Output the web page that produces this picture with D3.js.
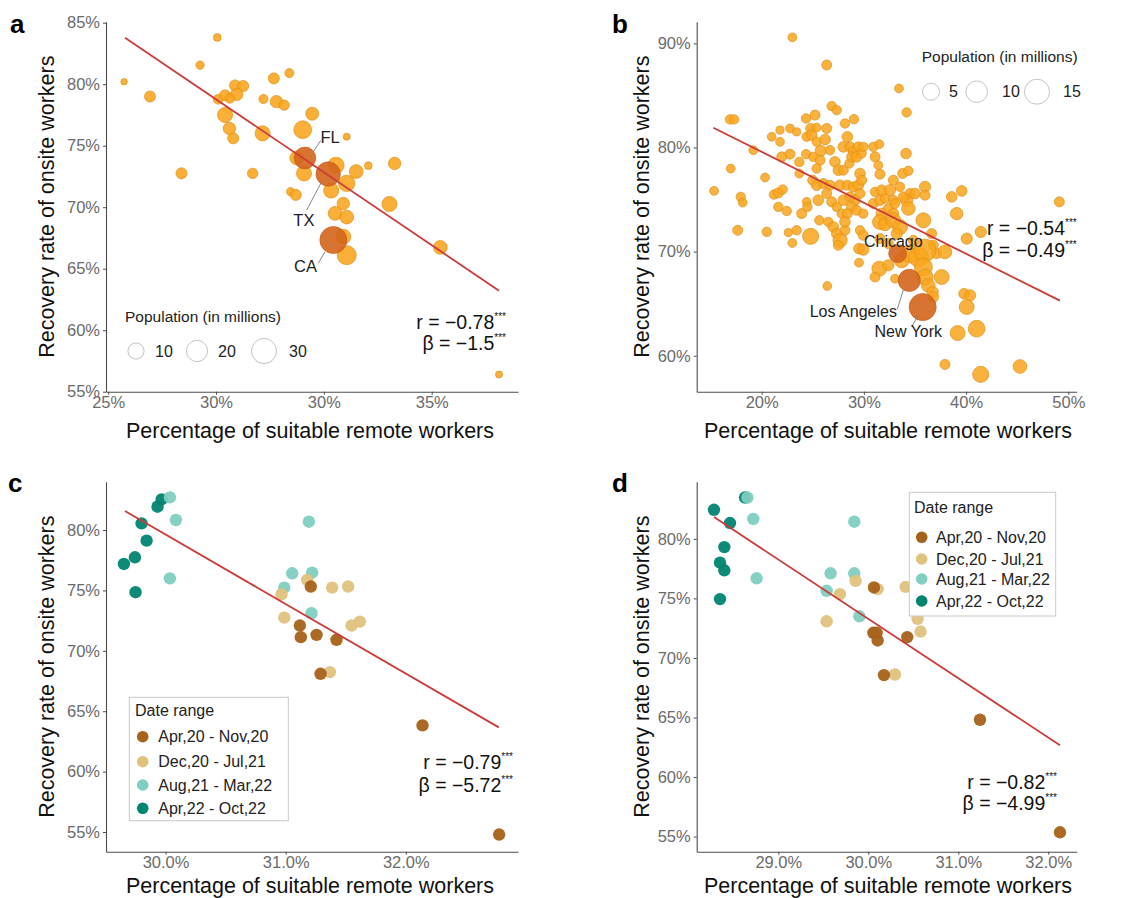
<!DOCTYPE html>
<html><head><meta charset="utf-8">
<script src="https://cdn.jsdelivr.net/npm/d3@7"></script>
<style>
body{margin:0;background:#fff}
text{font-family:"Liberation Sans",Arial,Helvetica,sans-serif}
</style>
</head><body>
<svg id="c" width="1128" height="898"></svg>
<script>
// ---------------- DATA ----------------
// Panel a: states [x = % suitable remote, y = recovery %, population (M)]
const statesA = [
 [25.37,80.2,0.4],[25.97,79.0,3.38],[26.70,72.75,3.38],[27.13,81.55,1.31],[27.53,83.8,0.95],
 [27.55,78.77,2.23],[27.71,79.1,3.38],[27.94,79.9,3.38],[28.13,79.85,3.38],[27.98,79.17,4.78],
 [27.82,78.85,2.23],[27.71,77.5,8.27],[27.81,76.4,4.78],[27.9,75.6,3.38],[28.58,76.0,8.27],
 [28.35,72.75,2.77],[28.6,78.8,1.74],[28.84,80.47,3.38],[28.9,78.58,4.78],[29.08,78.3,2.77],
 [29.2,80.9,1.74],[29.73,77.6,5.56],[29.51,76.3,12.8],[29.37,74.0,6.42],[29.54,72.75,8.27],
 [29.23,71.26,1.31],[29.35,71.0,3.38],[30.28,73.4,10.4],[30.17,71.35,8.27],[30.53,75.73,0.63],
 [30.53,71.94,10.4],[30.75,72.9,6.42],[30.45,70.3,4.78],[30.26,69.5,6.42],[30.53,69.2,6.42],
 [30.45,67.6,8.27],[30.53,66.1,15.3],[31.03,73.37,0.95],[31.64,73.56,4.78],[31.52,70.26,8.27],
 [32.7,66.73,6.42],[34.06,56.4,0.63]
];
const namedA = [["FL",29.56,74.0,21.3],["TX",30.1,72.7,28.2],["CA",30.22,67.33,36.1]];
const fitA = [[25.39,83.78],[34.06,63.21]];
const statA = ["r = \u22120.78","\u03B2 = \u22121.5"];
const xTicksA = [25,27.5,30,32.5], xLabelsA = ["25%","30%","30%","35%"];
const yTicksA = [55,60,65,70,75,80,85];
const legendPopA = [10,20,30];

// Panel b: metro areas
const metrosB = [
 [23.0,90.58,0.33],[26.36,87.92,0.67],[15.34,75.83,0.33],[33.43,85.67,0.33],[34.18,83.37,0.49],
 [16.9,82.7,0.49],[17.3,82.7,0.49],[16.97,77.98,0.33],[17.95,75.26,0.49],[18.14,74.7,0.33],
 [17.65,72.05,0.67],[19.18,79.74,0.33],[20.33,77.12,0.33],[20.5,71.9,0.49],[20.98,81.03,0.33],
 [21.79,81.67,0.2],[21.79,80.55,0.33],[21.2,75.48,0.49],[21.63,75.64,0.67],[22.05,75.96,0.49],
 [21.63,74.3,0.49],[22.45,73.9,0.49],[22.77,79.36,0.67],[21.96,79.1,0.67],[22.77,81.83,0.33],
 [23.42,81.5,0.2],[22.61,71.83,0.2],[23.0,70.83,0.33],[23.42,72.05,0.49],[23.91,73.65,0.67],
 [24.4,74.78,0.33],[24.47,74.3,0.49],[24.79,71.47,4.25],[23.68,77.5,0.33],[23.68,78.6,0.49],
 [24.34,79.36,0.49],[24.34,82.79,0.49],[25.22,83.11,0.67],[24.4,81.03,0.49],[24.79,81.83,0.67],
 [24.89,81.19,0.89],[25.38,80.55,0.49],[25.38,81.92,0.33],[26.2,80.77,0.89],[26.36,81.83,0.67],
 [26.68,79.74,0.49],[25.77,79.68,1.14],[25.05,79.1,0.49],[25.71,78.78,0.67],[25.38,77.98,0.49],
 [24.99,76.86,0.67],[25.38,76.38,0.89],[26.03,76.54,0.67],[26.68,76.38,0.67],[25.54,74.94,0.89],
 [26.36,75.58,0.67],[26.85,74.78,0.67],[27.34,74.3,0.49],[27.83,73.65,0.49],[25.64,73.01,0.49],
 [26.52,72.85,0.49],[27.01,72.37,0.89],[27.34,71.73,0.89],[27.67,71.09,2.85],[27.5,70.61,0.67],
 [28.15,72.05,0.67],[26.85,83.97,0.49],[27.34,83.59,0.49],[28.15,82.31,0.49],[29.03,82.72,0.49],
 [27.17,78.62,0.89],[27.5,77.82,0.89],[27.99,77.82,0.67],[28.58,78.46,0.49],[28.38,81.03,0.89],
 [27.99,80.06,0.89],[28.64,80.06,0.67],[28.97,79.58,0.89],[29.46,80.06,0.67],[28.8,79.1,0.67],
 [29.28,79.1,0.89],[29.78,79.42,0.49],[29.94,80.06,0.49],[27.66,76.38,0.89],[28.38,76.38,0.67],
 [28.97,76.22,0.67],[29.46,76.38,0.89],[27.99,74.94,0.89],[28.64,75.26,0.67],[29.13,74.94,0.89],
 [29.62,75.58,0.67],[28.8,74.3,0.89],[29.28,73.97,0.67],[28.38,73.65,0.67],[28.15,72.85,0.89],
 [29.62,77.5,0.89],[29.78,76.86,0.67],[29.94,73.65,0.49],[29.62,72.05,0.49],[29.94,71.57,0.67],
 [29.52,70.29,0.89],[29.52,68.94,0.33],[29.94,70.19,1.14],[30.92,80.06,0.49],[31.51,80.32,0.33],
 [31.09,79.1,0.67],[31.41,78.3,0.33],[31.57,77.44,0.67],[31.09,75.74,0.49],[31.74,75.9,0.89],
 [32.55,75.9,1.14],[30.92,74.62,0.67],[31.57,74.94,0.89],[32.06,75.1,0.49],[32.88,74.94,0.67],
 [31.74,73.65,1.14],[32.39,74.14,0.67],[32.88,73.65,0.89],[31.57,72.85,3.29],[32.06,72.63,2.08],
 [32.88,73.01,3.29],[33.53,72.37,3.29],[32.88,76.86,0.67],[33.53,76.22,0.49],[33.79,77.5,0.67],
 [34.35,77.76,0.49],[34.51,75.58,0.67],[34.18,74.94,1.73],[34.35,74.14,2.45],[34.12,79.42,0.89],
 [33.86,75.26,0.67],[35.0,75.58,0.89],[35.98,76.22,1.14],[35.98,75.42,0.67],[33.04,74.62,0.67],
 [33.21,71.73,1.14],[34.84,71.09,0.67],[35.82,73.01,3.29],[36.63,71.73,0.67],[36.79,70.61,0.67],
 [37.12,69.81,0.67],[31.57,71.25,0.67],[32.39,70.77,0.67],[33.7,69.17,3.29],[34.51,69.81,5.92],
 [35.33,69.49,7.87],[35.98,70.13,10.9],[35.82,68.53,5.92],[35.98,67.56,4.25],[36.3,66.76,2.45],
 [36.73,66.12,1.14],[36.79,65.64,0.89],[31.51,68.37,3.29],[31.09,67.56,0.67],[32.39,68.69,1.14],
 [33.04,67.4,0.33],[37.61,67.56,3.29],[37.93,69.97,2.45],[38.59,75.26,0.89],[39.08,73.65,1.73],
 [39.57,75.83,0.89],[40.06,71.25,1.14],[41.43,71.89,1.14],[49.12,74.78,0.67],[39.8,65.96,0.89],
 [40.39,65.8,1.14],[40.06,64.68,3.29],[41.03,62.6,4.78],[39.17,62.18,3.29],[37.93,59.17,0.67],
 [41.43,58.21,4.25],[45.27,58.97,2.45],[26.42,66.7,0.33]
];
const namedB = [["Chicago",33.3,69.81,5.92],["Los Angeles",34.44,67.24,10.9],["New York",35.75,64.68,18.5]];
const fitB = [[15.27,81.9],[49.18,65.3]];
const statB = ["r = \u22120.54","\u03B2 = \u22120.49"];
const xTicksB = [20,30,40,50], yTicksB = [60,70,80,90];
const legendPopB = [5,10,15];

// Panels c, d: monthly points [x, y, date-range index]
const dateRanges = ["Apr,20 - Nov,20","Dec,20 - Jul,21","Aug,21 - Mar,22","Apr,22 - Oct,22"];
const monthsC = [
 [29.653,77.19,3],[29.745,77.74,3],[29.75,74.85,3],[29.8,80.55,3],[29.842,79.12,3],[29.933,81.93,3],[29.967,82.53,3],
 [30.036,82.7,2],[30.086,80.83,2],[30.036,76.0,2],[30.988,75.23,2],[31.054,76.42,2],[31.193,80.69,2],[31.22,76.47,2],[31.215,73.11,2],
 [30.965,74.68,1],[30.988,72.75,1],[31.179,75.87,1],[31.387,75.23,1],[31.52,75.32,1],[31.548,72.09,1],[31.617,72.42,1],[31.368,68.24,1],
 [31.209,75.32,0],[31.118,72.09,0],[31.126,71.13,0],[31.257,71.32,0],[31.423,70.91,0],[31.29,68.1,0],[32.139,63.83,0],[32.777,54.79,0]
];
const fitC = [[29.662,81.57],[32.774,63.66]];
const statC = ["r = \u22120.79","\u03B2 = \u22125.72"];
const xTicksC = [30,31,32], yTicksC = [55,60,65,70,75,80];

const monthsD = [
 [28.285,82.44,3],[28.463,81.33,3],[28.4,79.31,3],[28.352,78.0,3],[28.4,77.36,3],[28.352,74.94,3],[28.63,83.47,3],
 [28.656,83.47,2],[28.722,81.67,2],[28.759,76.69,2],[29.581,77.11,2],[29.537,75.64,2],[29.844,81.44,2],[29.844,77.11,2],[29.9,73.5,2],
 [29.537,73.08,1],[29.685,75.36,1],[29.859,76.47,1],[30.104,75.78,1],[30.415,75.97,1],[30.548,73.28,1],[30.581,72.22,1],[30.296,68.61,1],
 [30.063,75.92,0],[30.056,72.11,0],[30.093,72.11,0],[30.104,71.47,0],[30.433,71.75,0],[30.174,68.56,0],[31.241,64.81,0],[32.13,55.36,0]
];
const fitD = [[28.285,81.83],[32.13,62.67]];
const statD = ["r = \u22120.82","\u03B2 = \u22124.99"];
const xTicksD = [29,30,31,32], yTicksD = [55,60,65,70,75,80];

// ---------------- STYLE ----------------
const rangeColors = ["#A6611A","#DFC27D","#80CDC1","#018571"];
const ORANGE = "#F9A41C", ORANGE_STROKE = "#DE9019", DARK = "#D4651C", FIT = "#CC3A3A";
const TICK_COL = "#6b6b6b", AXIS_COL = "#4d4d4d";

const svg = d3.select("#c");

function drawAxes(x, y, xTicks, xFmt, yTicks, yFmt) {
  const gx = svg.append("g").attr("transform", `translate(0,${y.range()[0]})`)
    .call(d3.axisBottom(x).tickValues(xTicks).tickFormat(xFmt).tickSize(3).tickPadding(2).tickSizeOuter(0));
  const gy = svg.append("g").attr("transform", `translate(${x.range()[0]},0)`)
    .call(d3.axisLeft(y).tickValues(yTicks).tickFormat(yFmt).tickSize(3).tickPadding(3).tickSizeOuter(0));
  [gx, gy].forEach(g => {
    g.select(".domain").attr("stroke", AXIS_COL).attr("stroke-width", 1.1);
    g.selectAll(".tick line").attr("stroke", AXIS_COL).attr("stroke-width", 1);
    g.selectAll(".tick text").attr("fill", TICK_COL).style("font-size", "16.5px")
      .style("font-family", '"Liberation Sans",Arial,sans-serif');
  });
}
function titles(cx, cy, yx, yy) {
  svg.append("text").attr("x", cx).attr("y", cy).attr("text-anchor", "middle").attr("dy", "0.35em")
    .style("font-size", "21.5px").attr("fill", "#111").text("Percentage of suitable remote workers");
  svg.append("text").attr("transform", `translate(${yx},${yy}) rotate(-90)`).attr("text-anchor", "middle")
    .attr("dy", "0.35em").style("font-size", "21.5px").attr("fill", "#111").text("Recovery rate of onsite workers");
}
function letter(t, x, y) {
  svg.append("text").attr("x", x).attr("y", y).style("font-size", "26px").style("font-weight", "bold")
    .attr("fill", "#000").text(t);
}
function fitLine(x, y, pts) {
  svg.append("path").datum(pts)
    .attr("d", d3.line().x(d => x(d[0])).y(d => y(d[1])))
    .attr("fill", "none").attr("stroke", FIT).attr("stroke-width", 1.8);
}
function stats(lines, xEnd, y1, y2) {
  [y1, y2].forEach((yy, i) => {
    const t = svg.append("text").attr("x", xEnd).attr("y", yy).attr("text-anchor", "end").attr("fill", "#111");
    t.append("tspan").style("font-size", "19.5px").text(lines[i]);
    t.append("tspan").style("font-size", "10px").attr("dy", "-9").text("***");
  });
}
const fmtPct0 = d => d + "%";
const fmtPct1 = d => d.toFixed(1) + "%";

// ---------------- PANEL A ----------------
const xA = d3.scaleLinear().domain([24.95, 34.5]).range([106, 518]);
const yA = d3.scaleLinear().domain([55, 85.08]).range([391.7, 21.7]);
const rA = d3.scaleSqrt().domain([0, 39]).range([2.0, 14.0]);
drawAxes(xA, yA, xTicksA, (d, i) => xLabelsA[i], yTicksA, fmtPct0);
svg.append("g").selectAll("circle").data(statesA).join("circle")
  .attr("cx", d => xA(d[0])).attr("cy", d => yA(d[1])).attr("r", d => rA(d[2]))
  .attr("fill", ORANGE).attr("fill-opacity", 0.88).attr("stroke", ORANGE_STROKE).attr("stroke-width", 0.7);
svg.append("g").selectAll("circle").data(namedA).join("circle")
  .attr("cx", d => xA(d[1])).attr("cy", d => yA(d[2])).attr("r", d => rA(d[3]))
  .attr("fill", DARK).attr("fill-opacity", 0.9).attr("stroke", "#C05A18").attr("stroke-width", 0.6);
fitLine(xA, yA, fitA);
const labA = [
  {t:"FL", tx:320.5, ty:137, l:[[313.3,151.7],[320.7,140.5]]},
  {t:"TX", tx:293.3, ty:220, l:[[306.7,210],[321.7,181.7]]},
  {t:"CA", tx:294, ty:266.7, l:[[318.3,263.3],[325,251.7]]}
];
labA.forEach(o => {
  svg.append("line").attr("x1", o.l[0][0]).attr("y1", o.l[0][1]).attr("x2", o.l[1][0]).attr("y2", o.l[1][1])
    .attr("stroke", "#777").attr("stroke-width", 0.9);
  svg.append("text").attr("x", o.tx).attr("y", o.ty).attr("dy", "0.35em").style("font-size", "16.5px")
    .attr("fill", "#222").text(o.t);
});
stats(statA, 506, 328.5, 350);
svg.append("text").attr("x", 125).attr("y", 317).attr("dy", "0.35em").style("font-size", "15.5px").attr("fill", "#222")
  .text("Population (in millions)");
const legAx = [136, 197, 264], legAlx = [155, 218, 289];
legendPopA.forEach((p, i) => {
  svg.append("circle").attr("cx", legAx[i]).attr("cy", 351).attr("r", rA(p)).attr("fill", "none")
    .attr("stroke", "#c4c4c4").attr("stroke-width", 1);
  svg.append("text").attr("x", legAlx[i]).attr("y", 351).attr("dy", "0.35em").style("font-size", "16px")
    .attr("fill", "#222").text(p);
});
titles(310, 430, 46.7, 206.7);
letter("a", 10, 33);

// ---------------- PANEL B ----------------
const xB = d3.scaleLinear().domain([13.64, 50.82]).range([696.7, 1076.7]);
const yB = d3.scaleLinear().domain([56.55, 92.08]).range([391.7, 21.7]);
const rB = d3.scaleSqrt().domain([0, 20]).range([3.0, 14.0]);
drawAxes(xB, yB, xTicksB, fmtPct0, yTicksB, fmtPct0);
svg.append("g").selectAll("circle").data(metrosB).join("circle")
  .attr("cx", d => xB(d[0])).attr("cy", d => yB(d[1])).attr("r", d => rB(d[2]))
  .attr("fill", ORANGE).attr("fill-opacity", 0.85).attr("stroke", ORANGE_STROKE).attr("stroke-width", 0.7);
svg.append("g").selectAll("circle").data(namedB).join("circle")
  .attr("cx", d => xB(d[1])).attr("cy", d => yB(d[2])).attr("r", d => rB(d[3]))
  .attr("fill", DARK).attr("fill-opacity", 0.9).attr("stroke", "#C05A18").attr("stroke-width", 0.6);
fitLine(xB, yB, fitB);
const labB = [
  {t:"Chicago", tx:893.3, ty:241.7, l:null},
  {t:"Los Angeles", tx:853.3, ty:311, l:[[897.3,309.3],[903.3,290]]},
  {t:"New York", tx:908.3, ty:331.7, l:[[911.7,326.7],[918.3,315]]}
];
labB.forEach(o => {
  if (o.l) svg.append("line").attr("x1", o.l[0][0]).attr("y1", o.l[0][1]).attr("x2", o.l[1][0]).attr("y2", o.l[1][1])
    .attr("stroke", "#777").attr("stroke-width", 0.9);
  svg.append("text").attr("x", o.tx).attr("y", o.ty).attr("dy", "0.35em").attr("text-anchor", "middle")
    .style("font-size", "16px").attr("fill", "#222").text(o.t);
});
stats(statB, 1076.7, 235, 257);
svg.append("text").attr("x", 921.7).attr("y", 56.7).attr("dy", "0.35em").style("font-size", "15.5px").attr("fill", "#222")
  .text("Population (in millions)");
const legBx = [931, 976.7, 1037], legBlx = [949, 1002, 1063];
legendPopB.forEach((p, i) => {
  svg.append("circle").attr("cx", legBx[i]).attr("cy", 91.7).attr("r", rB(p)).attr("fill", "none")
    .attr("stroke", "#c4c4c4").attr("stroke-width", 1);
  svg.append("text").attr("x", legBlx[i]).attr("y", 91.7).attr("dy", "0.35em").style("font-size", "16px")
    .attr("fill", "#222").text(p);
});
titles(888, 430, 641.7, 206.7);
letter("b", 612, 33);

// ---------------- PANELS C, D ----------------
function dateLegend(bx, by, bw, bh, tx, ty, cx, rows, lx) {
  svg.append("rect").attr("x", bx).attr("y", by).attr("width", bw).attr("height", bh)
    .attr("fill", "#fff").attr("stroke", "#c8c8c8").attr("stroke-width", 1);
  svg.append("text").attr("x", tx).attr("y", ty).attr("dy", "0.35em").style("font-size", "16px").attr("fill", "#222")
    .text("Date range");
  dateRanges.forEach((d, i) => {
    svg.append("circle").attr("cx", cx).attr("cy", rows[i]).attr("r", 5.8).attr("fill", rangeColors[i]);
    svg.append("text").attr("x", lx).attr("y", rows[i]).attr("dy", "0.35em").style("font-size", "16px")
      .attr("fill", "#222").text(d);
  });
}
function monthPanel(x, y, data) {
  svg.append("g").selectAll("circle").data(data).join("circle")
    .attr("cx", d => x(d[0])).attr("cy", d => y(d[1])).attr("r", 6.2)
    .attr("fill", d => rangeColors[d[2]]).attr("fill-opacity", 0.95);
}
const xC = d3.scaleLinear().domain([29.504, 32.934]).range([106, 518]);
const yC = d3.scaleLinear().domain([53.37, 84.0]).range([851.7, 481.7]);
drawAxes(xC, yC, xTicksC, fmtPct1, yTicksC, fmtPct0);
monthPanel(xC, yC, monthsC);
fitLine(xC, yC, fitC);
dateLegend(129.3, 697.3, 159, 123.4, 135, 710.7, 142.7, [736.7, 761.7, 785, 808.3], 158.3);
stats(statC, 513, 768.5, 792);
titles(310, 885, 46.7, 666.7);
letter("c", 8, 492);

const xD = d3.scaleLinear().domain([28.093, 32.316]).range([696.7, 1076.7]);
const yD = d3.scaleLinear().domain([53.73, 84.8]).range([851.7, 481.7]);
drawAxes(xD, yD, xTicksD, fmtPct1, yTicksD, fmtPct0);
monthPanel(xD, yD, monthsD);
fitLine(xD, yD, fitD);
dateLegend(909.3, 492.3, 146.4, 123.7, 914, 507.7, 921.7, [537.3, 559, 579, 601], 936);
stats(statD, 1057, 788.5, 810);
titles(888, 885, 641.7, 666.7);
letter("d", 612, 492);
</script>
</body></html>
